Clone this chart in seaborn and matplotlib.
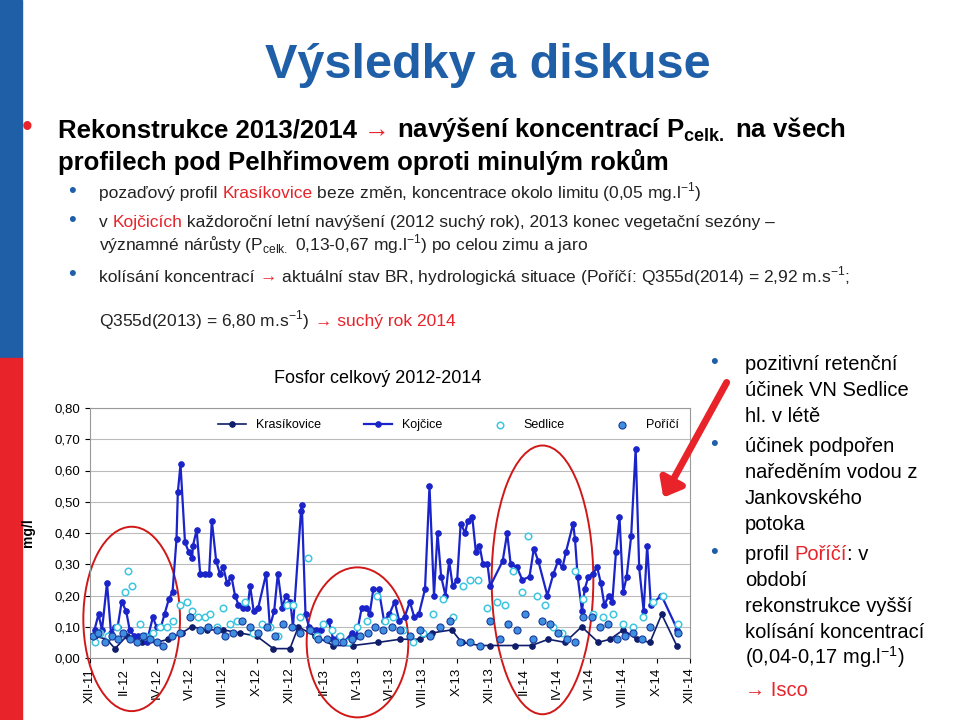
import matplotlib
matplotlib.use("Agg")
import matplotlib.pyplot as plt
import numpy as np
import seaborn as sns
from matplotlib.patches import Ellipse, Rectangle, FancyArrowPatch

# months counted from XII-2011 (=0)
koj_m = [0.27, 0.51, 0.72, 1.02, 1.26, 1.47, 1.66, 1.90, 2.17, 2.38, 2.65, 2.86, 3.13, 3.40, 3.77, 3.99,
         4.26, 4.47, 4.74, 4.95, 5.19, 5.27, 5.43, 5.70, 5.92, 6.13, 6.18, 6.40, 6.61, 6.88, 7.15, 7.31,
         7.57, 7.79, 8.00, 8.22, 8.49, 8.70, 8.91, 9.18, 9.45, 9.61, 9.82, 10.09, 10.57, 10.79, 11.05,
         11.27, 11.54, 11.75, 12.02, 12.18, 12.66, 12.71, 12.93, 13.14, 13.57, 13.84, 14.32, 14.59, 14.91,
         15.23, 15.71, 15.98, 16.30, 16.57, 16.78, 17.00, 17.32, 17.64, 17.96, 18.28, 18.55, 18.87, 19.19,
         19.46, 19.73, 20.10, 20.37, 20.64, 20.85, 21.07, 21.33, 21.55, 21.76, 22.03, 22.24, 22.51, 22.67,
         22.94, 23.15, 23.37, 23.58, 23.85, 24.01, 24.76, 25.03, 25.24, 25.62, 25.94, 26.37, 26.63, 26.90,
         27.44, 27.81, 28.08, 28.35, 28.56, 28.99, 29.10, 29.26, 29.52, 29.68, 29.90, 30.17, 30.43, 30.65,
         30.86, 31.13, 31.34, 31.56, 31.77, 31.99, 32.20, 32.47, 32.74, 32.95, 33.22, 33.43, 33.65, 34.29, 35.25]
koj_v = [0.09, 0.14, 0.09, 0.24, 0.08, 0.10, 0.10, 0.18, 0.15, 0.09, 0.07, 0.07, 0.07, 0.05, 0.13, 0.10,
         0.10, 0.14, 0.19, 0.21, 0.38, 0.53, 0.62, 0.37, 0.34, 0.32, 0.36, 0.41, 0.27, 0.27, 0.27, 0.44,
         0.31, 0.27, 0.29, 0.24, 0.26, 0.20, 0.17, 0.16, 0.16, 0.23, 0.15, 0.16, 0.27, 0.10, 0.15,
         0.27, 0.16, 0.20, 0.18, 0.10, 0.47, 0.49, 0.14, 0.10, 0.09, 0.09, 0.12, 0.06, 0.07,
         0.05, 0.08, 0.07, 0.16, 0.16, 0.14, 0.22, 0.22, 0.12, 0.14, 0.18, 0.12, 0.13, 0.18,
         0.13, 0.14, 0.22, 0.55, 0.20, 0.40, 0.26, 0.20, 0.31, 0.23, 0.25, 0.43, 0.40, 0.44,
         0.45, 0.34, 0.36, 0.30, 0.30, 0.23, 0.31, 0.40, 0.30, 0.29, 0.25, 0.26, 0.35, 0.31,
         0.20, 0.27, 0.31, 0.29, 0.34, 0.43, 0.38, 0.26, 0.15, 0.22, 0.26, 0.27, 0.29, 0.24,
         0.17, 0.20, 0.18, 0.34, 0.45, 0.21, 0.26, 0.39, 0.67, 0.29, 0.15, 0.36, 0.17, 0.20, 0.09]

kras_m = [0.3, 1.0, 1.5, 2.2, 3.1, 4.0, 4.7, 5.5, 6.1, 7.0, 8.0, 9.0, 10.0, 11.0, 12.0, 12.5, 13.5, 14.6,
          15.8, 17.3, 18.6, 19.8, 20.5, 21.7, 22.3, 23.4, 24.0, 25.5, 26.5, 27.5, 28.5, 29.5, 30.5, 31.2,
          32.0, 32.8, 33.6, 34.3, 35.2]
kras_v = [0.07, 0.06, 0.03, 0.07, 0.05, 0.05, 0.06, 0.08, 0.10, 0.09, 0.09, 0.08, 0.07, 0.03, 0.03, 0.10,
          0.07, 0.04, 0.04, 0.05, 0.06, 0.06, 0.08, 0.09, 0.05, 0.04, 0.04, 0.04, 0.04, 0.06, 0.05, 0.10,
          0.05, 0.06, 0.09, 0.06, 0.05, 0.14, 0.04]

sed_m = [0.3, 0.6, 1.1, 1.6, 2.1, 2.3, 2.5, 3.0, 3.3, 3.8, 4.2, 4.6, 5.0, 5.4, 5.8, 6.1, 6.5, 6.9, 7.2, 7.6,
         8.0, 8.4, 8.8, 9.3, 9.8, 10.3, 10.8, 11.3, 11.8, 12.2, 12.6, 13.1, 13.6, 14.0, 14.5, 15.0, 15.5,
         16.0, 16.6, 17.2, 17.7, 18.2, 18.8, 19.4, 20.0, 20.6, 21.2, 21.8, 22.4, 22.8, 23.3, 23.8, 24.4,
         24.9, 25.4, 25.9, 26.3, 26.8, 27.3, 27.8, 28.3, 29.1, 29.6, 30.2, 30.8, 31.4, 32.0, 32.6, 33.2,
         33.8, 34.4, 35.3]
sed_v = [0.05, 0.08, 0.07, 0.10, 0.21, 0.28, 0.23, 0.11, 0.07, 0.08, 0.10, 0.10, 0.12, 0.17, 0.18, 0.15,
         0.13, 0.13, 0.14, 0.10, 0.16, 0.11, 0.12, 0.18, 0.08, 0.11, 0.10, 0.07, 0.17, 0.17, 0.13, 0.32,
         0.07, 0.11, 0.09, 0.07, 0.05, 0.10, 0.12, 0.20, 0.12, 0.13, 0.09, 0.05, 0.08, 0.14, 0.19, 0.13,
         0.23, 0.25, 0.25, 0.16, 0.18, 0.17, 0.28, 0.21, 0.39, 0.20, 0.17, 0.10, 0.08, 0.28, 0.19, 0.14,
         0.13, 0.14, 0.11, 0.10, 0.13, 0.18, 0.20, 0.11]

por_m = [0.2, 0.5, 0.9, 1.3, 1.7, 2.0, 2.4, 2.8, 3.2, 3.6, 4.0, 4.4, 4.9, 5.4, 6.0, 6.6, 7.1, 7.6, 8.1,
         8.6, 9.1, 9.6, 10.1, 10.6, 11.1, 11.6, 12.1, 12.6, 13.2, 13.7, 14.2, 14.7, 15.2, 15.7, 16.2, 16.7,
         17.1, 17.6, 18.1, 18.6, 19.2, 19.8, 20.4, 21.0, 21.6, 22.2, 22.8, 23.4, 24.0, 24.6, 25.1, 25.6,
         26.1, 26.6, 27.1, 27.6, 28.1, 28.6, 29.1, 29.6, 30.1, 30.6, 31.1, 31.6, 32.1, 32.6, 33.1, 33.6, 35.3]
por_v = [0.07, 0.08, 0.05, 0.07, 0.06, 0.08, 0.06, 0.05, 0.07, 0.06, 0.05, 0.04, 0.07, 0.08, 0.13, 0.09,
         0.10, 0.09, 0.07, 0.08, 0.12, 0.10, 0.08, 0.10, 0.07, 0.11, 0.10, 0.08, 0.09, 0.06, 0.06, 0.05,
         0.05, 0.06, 0.07, 0.08, 0.10, 0.09, 0.10, 0.09, 0.07, 0.09, 0.07, 0.10, 0.12, 0.05, 0.05, 0.04,
         0.12, 0.06, 0.11, 0.09, 0.14, 0.06, 0.12, 0.11, 0.08, 0.06, 0.05, 0.13, 0.13, 0.10, 0.11, 0.06,
         0.07, 0.08, 0.06, 0.10, 0.08]

tick_labels = ["XII-11", "II-12", "IV-12", "VI-12", "VIII-12", "X-12", "XII-12", "II-13", "IV-13",
               "VI-13", "VIII-13", "X-13", "XII-13", "II-14", "IV-14", "VI-14", "VIII-14", "X-14", "XII-14"]

BLUE = "#1F5FA8"
RED = "#E8232A"
FONT = "Liberation Sans"
plt.rcParams["font.family"] = FONT
plt.rcParams["mathtext.fontset"] = "custom"
plt.rcParams["mathtext.rm"] = FONT

fig = plt.figure(figsize=(9.6, 7.2), dpi=100)
fig.add_artist(Rectangle((0, 1 - 358 / 720), 22 / 960, 358 / 720, transform=fig.transFigure, color=BLUE, zorder=0))
fig.add_artist(Rectangle((0, 0), 22 / 960, 1 - 358 / 720, transform=fig.transFigure, color=RED, zorder=0))

rend = fig.canvas.get_renderer()


def runs(x, y, parts, size, weight="normal"):
    # draw consecutive text pieces with own colours, x/y in pixels
    px = x
    for txt, col in parts:
        t = fig.text(px / 960, 1 - y / 720, txt, color=col, fontsize=size, weight=weight, va="baseline")
        px += t.get_window_extent(rend).width * 960 / fig.bbox.width


fig.text(488 / 960, 1 - 78 / 720, "Výsledky a diskuse", color=BLUE, fontsize=35, weight="bold", ha="center",
         va="baseline")
fig.text(22 / 960, 1 - 136 / 720, "•", color=RED, fontsize=22, va="baseline")
runs(58, 137, [("Rekonstrukce 2013/2014 ", "black"), ("→", RED),
               (" navýšení koncentrací P$_{\\mathregular{celk.}}$ na všech", "black")], 18.5, "bold")
runs(58, 170, [("profilech pod Pelhřimovem oproti minulým rokům", "black")], 18.5, "bold")
for yy in [197, 226, 280]:
    fig.text(68 / 960, 1 - yy / 720, "•", color=BLUE, fontsize=16, va="baseline")
runs(99, 198, [("pozaďový profil ", "#222222"), ("Krasíkovice", RED),
               (" beze změn, koncentrace okolo limitu (0,05 mg.l$^{-1}$)", "#222222")], 12.5)
runs(99, 227, [("v ", "#222222"), ("Kojčicích", RED),
               (" každoroční letní navýšení (2012 suchý rok), 2013 konec vegetační sezóny –", "#222222")], 12.5)
runs(99, 250, [("významné nárůsty (P$_{\\mathregular{celk.}}$ 0,13-0,67 mg.l$^{-1}$) po celou zimu a jaro",
                "#222222")], 12.5)
runs(99, 282, [("kolísání koncentrací ", "#222222"), ("→", RED),
               (" aktuální stav BR, hydrologická situace (Poříčí: Q355d(2014) = 2,92 m.s$^{-1}$;", "#222222")], 12.5)
runs(99, 326, [("Q355d(2013) = 6,80 m.s$^{-1}$)  ", "#222222"), ("→ suchý rok 2014", RED)], 12.5)

# chart
ax = fig.add_axes([90 / 960, 1 - 658 / 720, 600 / 960, 250 / 720])
sns.lineplot(x=kras_m, y=kras_v, ax=ax, color="#101D6B", lw=1.2, marker="o", markersize=4,
             markeredgecolor="#101D6B", label="Krasíkovice", sort=False)
sns.lineplot(x=koj_m, y=koj_v, ax=ax, color="#1A24C8", lw=1.6, marker="o", markersize=4,
             markeredgecolor="#1A24C8", label="Kojčice", sort=False)
ax.scatter(sed_m, sed_v, s=22, facecolors="white", edgecolors="#3EC6E0", linewidths=1.1, label="Sedlice", zorder=3)
ax.scatter(por_m, por_v, s=26, facecolors="#3F8FE0", edgecolors="#1A3A9A", linewidths=0.8, label="Poříčí", zorder=3)
ax.set_xlim(0, 36)
ax.set_ylim(0, 0.8)
ax.set_xticks(np.arange(0, 37, 2))
ax.set_xticklabels(tick_labels, rotation=90, fontsize=9.5)
ax.set_yticks(np.arange(0, 0.81, 0.1))
ax.set_yticklabels([f"{v:.2f}".replace(".", ",") for v in np.arange(0, 0.81, 0.1)], fontsize=9.5)
ax.yaxis.grid(True, color="#BBBBBB", lw=0.8)
ax.set_axisbelow(True)
for s in ax.spines.values():
    s.set_color("#999999")
ax.set_ylabel("mg/l", fontsize=10, weight="bold", labelpad=14)
ax.set_xlabel("")
ax.legend(ncol=4, frameon=False, loc="upper right", fontsize=9, bbox_to_anchor=(1.0, 1.0),
          handlelength=2.2, columnspacing=3.5)
ax.set_title("Fosfor celkový 2012-2014", fontsize=13, pad=18, x=0.48)

for cx, cy, w, h in [(2.5, 0.125, 5.8, 0.59), (16.05, 0.05, 6.1, 0.48), (27.15, 0.25, 6.1, 0.86)]:
    ax.add_patch(Ellipse((cx, cy), w, h, fill=False, edgecolor="#D01818", lw=1.4, clip_on=False))

fig.add_artist(FancyArrowPatch((728 / 960, 1 - 380 / 720), (662 / 960, 1 - 500 / 720), transform=fig.transFigure,
                               arrowstyle="-|>,head_length=10,head_width=8", color=RED, lw=5))

side = [(370, ["pozitivní retenční", "účinek VN Sedlice", "hl. v létě"]),
        (452, ["účinek podpořen", "naředěním vodou z", "Jankovského", "potoka"]),
        (560, ["profil ", "období", "rekonstrukce vyšší", "kolísání koncentrací", "(0,04-0,17 mg.l$^{-1}$)"])]
for y0, lines in side:
    fig.text(710 / 960, 1 - (y0 - 2) / 720, "•", color=BLUE, fontsize=16, va="baseline")
for i, l in enumerate(side[0][1]):
    fig.text(745 / 960, 1 - (370 + i * 26) / 720, l, fontsize=14.5, va="baseline")
for i, l in enumerate(side[1][1]):
    fig.text(745 / 960, 1 - (452 + i * 26) / 720, l, fontsize=14.5, va="baseline")
runs(745, 560, [("profil ", "black"), ("Poříčí", RED), (": v", "black")], 14.5)
for i, l in enumerate(side[2][1][1:]):
    fig.text(745 / 960, 1 - (586 + i * 26) / 720, l, fontsize=14.5, va="baseline")
fig.text(745 / 960, 1 - 696 / 720, "→ Isco", color=RED, fontsize=14.5, va="baseline")

fig.savefig("out.png", dpi=100)
